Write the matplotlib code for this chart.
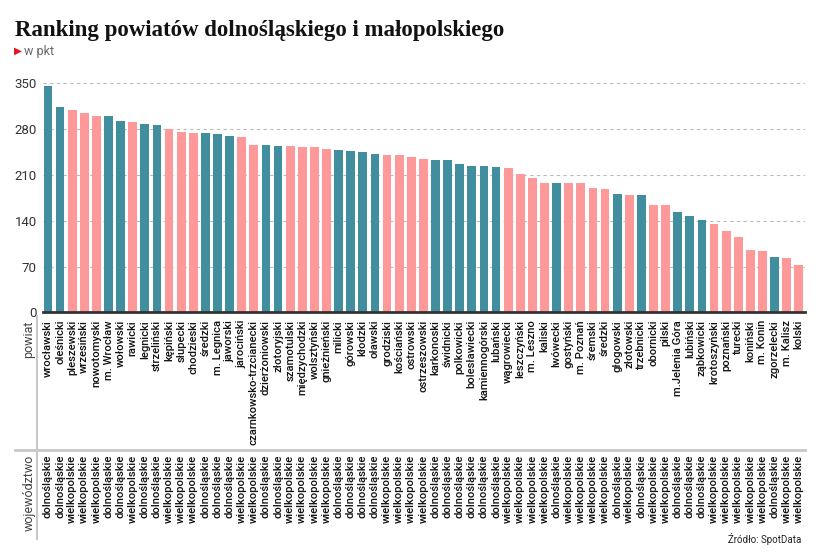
import matplotlib
matplotlib.use("Agg")
import matplotlib.pyplot as plt
from matplotlib.lines import Line2D
from matplotlib.transforms import blended_transform_factory

powiaty = ["wrocławski", "oleśnicki", "pleszewski", "wrzesiński", "nowotomyski", "m. Wrocław",
           "wołowski", "rawicki", "legnicki", "strzeliński", "kępiński", "słupecki", "chodzieski",
           "średzki", "m. Legnica", "jaworski", "jarociński", "czarnkowsko-trzcianecki",
           "dzierżoniowski", "złotoryjski", "szamotulski", "międzychodzki", "wolsztyński",
           "gnieźnieński", "milicki", "górowski", "kłodzki", "oławski", "grodziski", "kościański",
           "ostrowski", "ostrzeszowski", "karkonoski", "świdnicki", "polkowicki", "bolesławiecki",
           "kamiennogórski", "lubański", "wągrowiecki", "leszczyński", "m. Leszno", "kaliski",
           "lwówecki", "gostyński", "m. Poznań", "śremski", "średzki", "głogowski", "złotowski",
           "trzebnicki", "obornicki", "pilski", "m.Jelenia Góra", "lubiński", "ząbkowicki",
           "krotoszyński", "poznański", "turecki", "koniński", "m. Konin", "zgorzelecki",
           "m. Kalisz", "kolski"]

D, W = "dolnośląskie", "wielkopolskie"
wojewodztwa = [D, D, W, W, W, D, D, W, D, D, W, W, W, D, D, D, W, W, D, D,
               W, W, W, W, D, D, D, D, W, W, W, W, D, D, D, D, D, D, W, W,
               W, W, D, W, W, W, W, D, W, D, W, W, D, D, D, W, W, W, W, W,
               D, W, W]

punkty = [346.5, 314, 310, 304, 300, 300, 292, 291, 288, 286, 280, 276, 274, 274, 273, 270,
          268, 256, 256, 255, 254, 252, 252, 249, 248, 247, 245, 242, 241, 240, 237, 234,
          233, 233, 226, 224, 223, 222, 220, 211, 206, 198, 197, 197, 197, 190, 188, 181,
          180, 179, 164, 164, 153, 148, 141, 135, 125, 115, 95, 93, 85, 83, 73]

y_ticks = [0, 70, 140, 210, 280, 350]

colors = {D: "#418e9e", W: "#ff9999"}

W_PX, H_PX = 823, 558
fig = plt.figure(figsize=(W_PX / 100, H_PX / 100), dpi=100)

def fx(x):
    return x / W_PX

def fy(y):
    return 1 - y / H_PX

ax_left, ax_right = 43, 805
ax_bottom = 312.3
ymax = 355
ax_top = ax_bottom - 0.654 * ymax
ax = fig.add_axes([fx(ax_left), fy(ax_bottom), (ax_right - ax_left) / W_PX,
                   (ax_bottom - ax_top) / H_PX])

xs = list(range(len(powiaty)))
ax.bar(xs, punkty, width=0.72, color=[colors[w] for w in wojewodztwa], zorder=3)
ax.set_xlim(-0.41, len(powiaty) - 1 + 0.51)
ax.set_ylim(0, ymax)
ax.set_yticks(y_ticks)
ax.set_yticklabels([str(t) for t in y_ticks], fontsize=9.5, color="#333333", family="Roboto")
ax.tick_params(axis="y", length=0, pad=4.5)
ax.set_xticks([])
ax.yaxis.grid(True, color="#bbbbbb", linestyle=(0, (3, 3)), linewidth=0.8, zorder=0)
for s in ["top", "right", "left"]:
    ax.spines[s].set_visible(False)
ax.spines["bottom"].set_color("#333333")
ax.spines["bottom"].set_linewidth(2)
ax.spines["bottom"].set_zorder(4)

tr = blended_transform_factory(ax.transData, fig.transFigure)
for x, p, w in zip(xs, powiaty, wojewodztwa):
    ax.text(x, fy(320), p, rotation=90, ha="center", va="top", fontsize=8.1,
            family="Roboto", weight="medium", color="#111111", transform=tr)
    ax.text(x, fy(455), w, rotation=90, ha="center", va="top", fontsize=8.1,
            family="Roboto", weight="medium", color="#111111", transform=tr)

fig.text(fx(29), fy(320), "powiat", rotation=90, ha="center", va="top", fontsize=9,
         family="Roboto", color="#444444")
fig.text(fx(29), fy(455), "województwo", rotation=90, ha="center", va="top", fontsize=9,
         family="Roboto", color="#444444")

fig.add_artist(Line2D([fx(15), fx(805)], [fy(450), fy(450)], color="#c8c8c8", lw=2))
fig.add_artist(Line2D([fx(37), fx(37)], [fy(316), fy(539)], color="#c8c8c8", lw=1.5))

fig.text(fx(15), fy(36), "Ranking powiatów dolnośląskiego i małopolskiego", fontsize=16.5,
         family="Liberation Serif", weight="bold", color="#111111", va="baseline")
fig.text(fx(14), fy(51), "▶", fontsize=7.5, color="#e3161e", va="center", family="DejaVu Sans")
fig.text(fx(24), fy(51), "w pkt", fontsize=9, color="#666666", va="center", family="Roboto")
fig.text(fx(801), fy(539), "Źródło: SpotData", fontsize=7, color="#222222", ha="right",
         va="center", family="Roboto")

fig.savefig("out.png", dpi=100)
